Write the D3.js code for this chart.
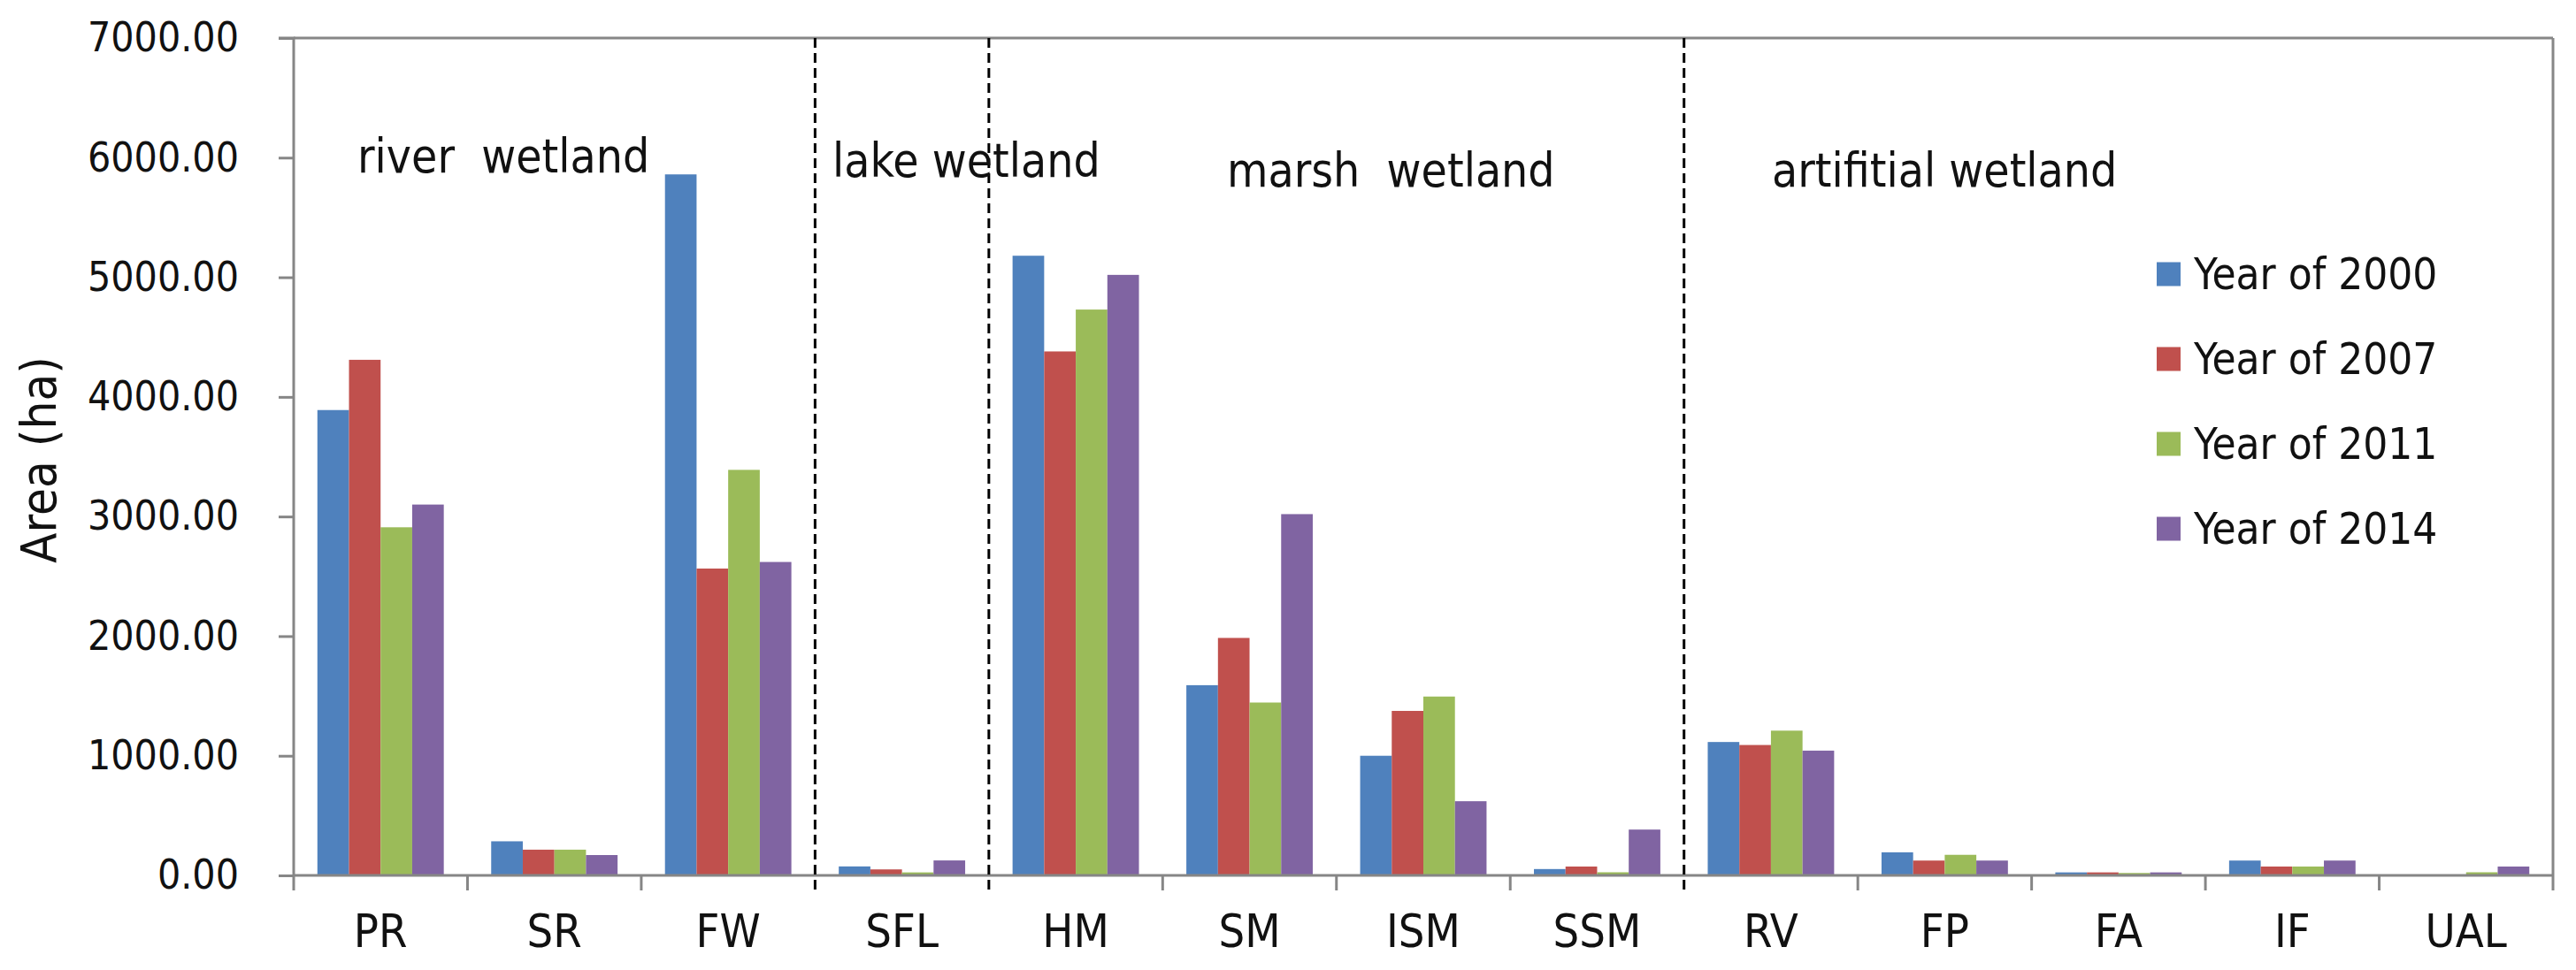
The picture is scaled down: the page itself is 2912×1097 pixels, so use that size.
<!DOCTYPE html>
<html>
<head>
<meta charset="utf-8">
<script src="https://cdn.jsdelivr.net/npm/d3@7"></script>
<style>
  html, body { margin: 0; padding: 0; background: #fff; }
  svg { display: block; }
  text { font-family: "DejaVu Sans Condensed", "Liberation Sans", sans-serif; fill: #111; }
</style>
</head>
<body>
<svg id="chart" width="2912" height="1097"></svg>
<script>
// ---- data ----
const categories = ["PR", "SR", "FW", "SFL", "HM", "SM", "ISM", "SSM", "RV", "FP", "FA", "IF", "UAL"];
const seriesNames = ["Year of 2000", "Year of 2007", "Year of 2011", "Year of 2014"];
const year2000 = [3890, 285, 5860, 75, 5180, 1590, 1000, 53, 1115, 193, 25, 124, 0];
const year2007 = [4310, 215, 2565, 50, 4380, 1985, 1375, 74, 1090, 124, 25, 74, 0];
const year2011 = [2910, 215, 3390, 25, 4730, 1445, 1495, 26, 1210, 172, 20, 74, 26];
const year2014 = [3100, 170, 2620, 125, 5020, 3020, 620, 383, 1043, 124, 25, 124, 74];
const yTicks = [0, 1000, 2000, 3000, 4000, 5000, 6000, 7000];
const yTitle = "Area (ha)";
// group separators: index of the category boundary where a dashed line is drawn
const groupBoundaries = [3, 4, 8];
const groupLabels = ["river  wetland", "lake wetland", "marsh  wetland", "artifitial wetland"];

// ---- styles / layout ----
const colors = ["#4F81BD", "#C0504D", "#9BBB59", "#8064A2"];
const plot = { left: 332, right: 2886, top: 43, bottom: 990 };
const groupLabelPos = [[404, 195], [941, 200], [1387, 211], [2003, 211]];

const svg = d3.select("#chart");
const series = [year2000, year2007, year2011, year2014];

const x0 = d3.scaleBand().domain(categories).range([plot.left, plot.right]).paddingInner(0).paddingOuter(0);
const x1 = d3.scaleBand().domain(d3.range(series.length)).range([0, x0.bandwidth()]).paddingInner(0).paddingOuter(0.75);
const y = d3.scaleLinear().domain([0, 7000]).range([plot.bottom, plot.top]);

const axisColor = "#868686";

// plot border (top + right)
svg.append("line").attr("x1", plot.left).attr("x2", plot.right).attr("y1", plot.top).attr("y2", plot.top)
  .attr("stroke", axisColor).attr("stroke-width", 3);
svg.append("line").attr("x1", plot.right).attr("x2", plot.right).attr("y1", plot.top).attr("y2", plot.bottom + 17)
  .attr("stroke", axisColor).attr("stroke-width", 3);

// bars
const g = svg.append("g");
categories.forEach((c, i) => {
  series.forEach((s, k) => {
    const v = s[i];
    if (v <= 0) return;
    g.append("rect")
      .attr("x", x0(c) + x1(k))
      .attr("width", x1.bandwidth())
      .attr("y", y(v))
      .attr("height", y(0) - y(v))
      .attr("fill", colors[k]);
  });
});

// y axis
const yAxis = d3.axisLeft(y).tickValues(yTicks).tickFormat(d3.format(".2f")).tickSize(17).tickPadding(45);
const ya = svg.append("g").attr("transform", `translate(${plot.left},0)`).call(yAxis);
ya.select(".domain").attr("stroke", axisColor).attr("stroke-width", 3).attr("d", `M-17,${plot.top}H0V${plot.bottom + 17}`);
ya.selectAll(".tick line").attr("stroke", axisColor).attr("stroke-width", 3);
ya.selectAll(".tick text").attr("font-size", 46).attr("fill", "#111")
  .attr("font-family", '"DejaVu Sans Condensed", "Liberation Sans", sans-serif');

// x axis
const xa = svg.append("g").attr("transform", `translate(0,${plot.bottom})`);
xa.append("line").attr("x1", plot.left).attr("x2", plot.right).attr("y1", 0).attr("y2", 0)
  .attr("stroke", axisColor).attr("stroke-width", 3);
d3.range(1, categories.length).forEach(b => {
  if (groupBoundaries.includes(b)) return;
  const bx = x0(categories[b]);
  xa.append("line").attr("x1", bx).attr("x2", bx).attr("y1", 0).attr("y2", 17)
    .attr("stroke", axisColor).attr("stroke-width", 3);
});
categories.forEach(c => {
  xa.append("text").attr("x", x0(c) + x0.bandwidth() / 2).attr("y", 81)
    .attr("text-anchor", "middle").attr("font-size", 52).text(c);
});

// dashed group separators
groupBoundaries.forEach(b => {
  const bx = x0(categories[b]);
  svg.append("line").attr("x1", bx).attr("x2", bx).attr("y1", plot.top).attr("y2", plot.bottom + 17)
    .attr("stroke", "#000").attr("stroke-width", 3).attr("stroke-dasharray", "11,6");
});

// group labels
groupLabels.forEach((t, i) => {
  svg.append("text").attr("x", groupLabelPos[i][0]).attr("y", groupLabelPos[i][1])
    .attr("font-size", 53).style("white-space", "pre").attr("xml:space", "preserve").text(t);
});

// y title
svg.append("text").attr("transform", "translate(63,520) rotate(-90)")
  .attr("text-anchor", "middle").attr("font-size", 56).text(yTitle);

// legend
const legend = svg.append("g");
const legendRowY = d3.scalePoint().domain(seriesNames).range([310, 598]);
seriesNames.forEach((n, k) => {
  const cy = legendRowY(n);
  legend.append("rect").attr("x", 2438).attr("y", cy - 13.5).attr("width", 27).attr("height", 27).attr("fill", colors[k]);
  legend.append("text").attr("x", 2480).attr("y", cy).attr("dy", "0.35em").attr("font-size", 49).text(n);
});
</script>
</body>
</html>
